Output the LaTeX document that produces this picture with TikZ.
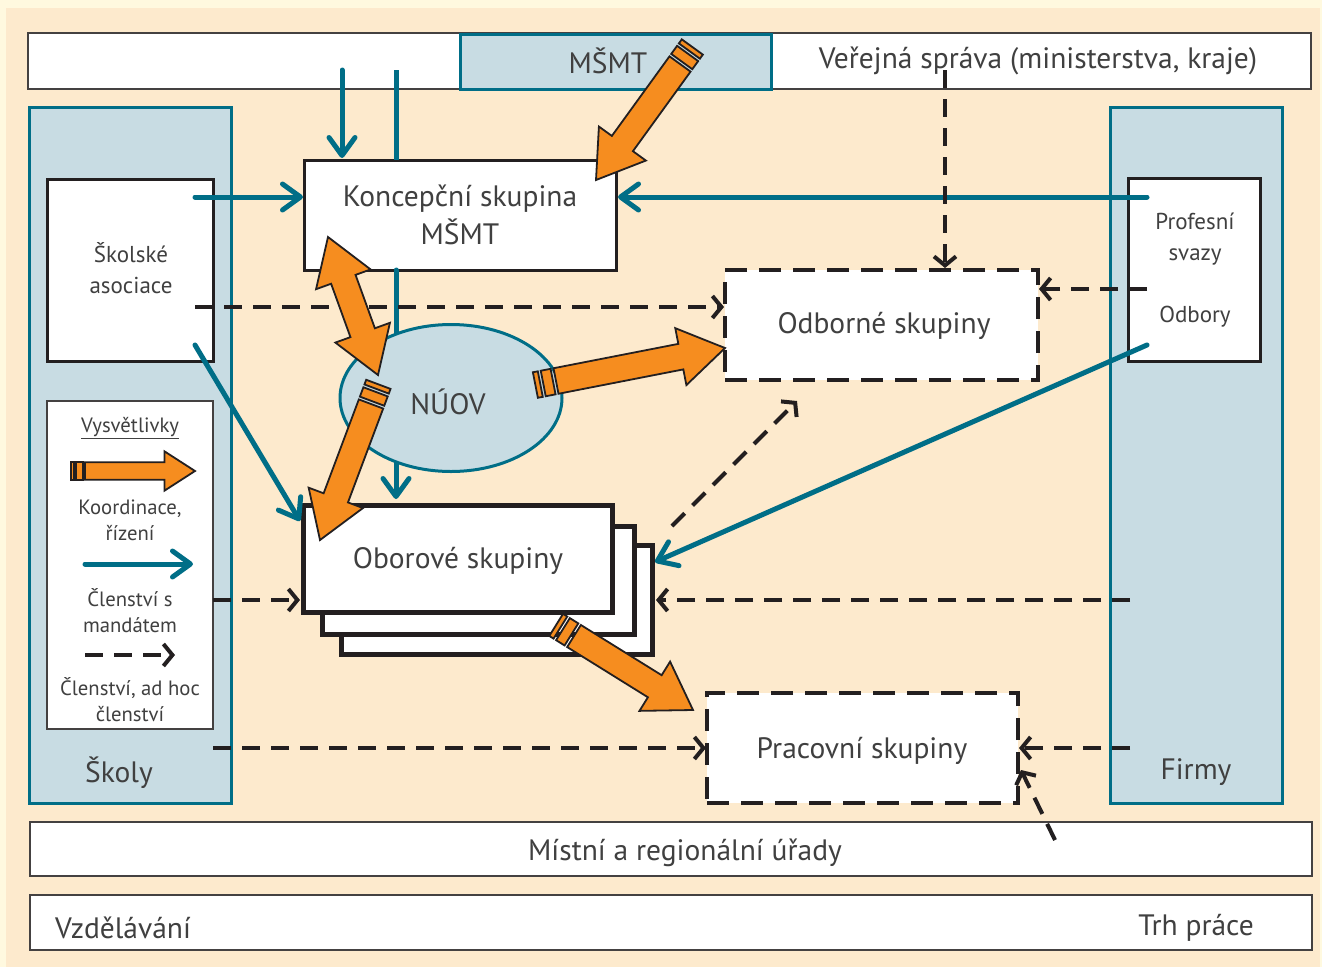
\documentclass[tikz,border=0pt]{standalone}
\usepackage{fontspec}
\setmainfont{PT Sans}
\usetikzlibrary{arrows.meta,calc,shapes.geometric}
\definecolor{bgout}{HTML}{FFF9DF}
\definecolor{peach}{HTML}{FDEACD}
\definecolor{lblue}{HTML}{C8DCE3}
\definecolor{tealc}{HTML}{006E87}
\definecolor{orng}{HTML}{F68D1F}
\definecolor{dark}{HTML}{231F20}
\definecolor{txt}{HTML}{404040}
\newcommand{\bigf}{\fontsize{29.5}{38}\selectfont}
\newcommand{\midf}{\fontsize{23}{31}\selectfont}
\newcommand{\smf}{\fontsize{20.7}{26}\selectfont}
% fat orange arrow: #1 scale, #2 from, #3 to, #4 = 1 for tail stripes
\newcommand{\fatarr}[4]{%
  \pgfpointdiff{\pgfpointanchor{#2}{center}}{\pgfpointanchor{#3}{center}}%
  \pgfgetlastxy{\fdx}{\fdy}%
  \pgfmathsetmacro{\fang}{atan2(\fdy,\fdx)}%
  \pgfmathsetmacro{\flen}{veclen(\fdx,\fdy)/#1}%
  \begin{scope}[shift={(#2)}, rotate=\fang, x=#1pt, y=#1pt]
    \draw[fatarrow] (0,-13) -- ({\flen-45},-13) -- ({\flen-45},-29) -- (\flen,0)
      -- ({\flen-45},29) -- ({\flen-45},13) -- (0,13) -- cycle;
    \ifnum#4=1
      \draw[fatarrow] (-13,-13) rectangle (-3,13);
      \draw[fatarrow] (-21,-13) rectangle (-16,13);
    \fi
  \end{scope}}
\newcommand{\fatdbl}[2]{%
  \pgfpointdiff{\pgfpointanchor{#1}{center}}{\pgfpointanchor{#2}{center}}%
  \pgfgetlastxy{\fdx}{\fdy}%
  \pgfmathsetmacro{\fang}{atan2(\fdy,\fdx)}%
  \pgfmathsetmacro{\flen}{veclen(\fdx,\fdy)}%
  \begin{scope}[shift={(#1)}, rotate=\fang, x=1pt, y=1pt]
    \draw[fatarrow] (0,0) -- (45,29) -- (45,13) -- ({\flen-45},13) -- ({\flen-45},29) -- (\flen,0)
      -- ({\flen-45},-29) -- ({\flen-45},-13) -- (45,-13) -- (45,-29) -- cycle;
  \end{scope}}
\tikzset{
  fatarrow/.style={fill=orng, draw=dark, line width=1.8pt, line join=miter},
  wbox/.style={draw=dark, line width=3pt, fill=white, inner sep=0pt, text=txt, align=center},
  bar/.style={draw=dark!85, line width=1.5pt, fill=white, inner sep=0pt},
  col/.style={draw=tealc, line width=3pt, fill=lblue, inner sep=0pt},
  dbox/.style={draw=dark, line width=4.5pt, dash pattern=on 22pt off 12pt, fill=white, inner sep=0pt, text=txt},
  stackbox/.style={draw=dark, line width=5pt, fill=white, inner sep=0pt, text=txt},
  lbl/.style={text=txt, inner sep=0pt, align=center, yshift=-2.5pt},
  tealarr/.style={draw=tealc, line width=5pt, line cap=round, -{Straight Barb[length=18pt,width=26pt,line cap=round,line join=round]}},
  tealline/.style={draw=tealc, line width=5pt},
  dasharr/.style={draw=dark, line width=4pt, dash pattern=on 18pt off 11pt, -{Straight Barb[length=9pt,width=22pt]}},
}
\begin{document}
\begin{tikzpicture}[x=1pt,y=-1pt]
\useasboundingbox (0,0) rectangle (1322,967);
\fill[bgout] (0,0) rectangle (1322,967);
\fill[peach] (6,8) rectangle (1320,967);

% bars
\node[bar, minimum width=1283pt, minimum height=56pt] (topbar) at (669.5,61) {};
\node[col, minimum width=311pt, minimum height=55pt] (msmt) at (615.5,61.5) {};
\node[lbl, font=\bigf] (msmtt) at (608,58) {MŠMT};
\node[lbl, font=\bigf] (verej) at (1038,58) {Veřejná správa (ministerstva, kraje)};
\node[bar, minimum width=1282pt, minimum height=54pt] (mistni) at (671,849) {};
\node[lbl, font=\bigf] (mistnit) at (685,850) {Místní a regionální úřady};
\node[bar, minimum width=1282pt, minimum height=55pt] (vzbar) at (671,922.5) {};
\node[lbl, font=\bigf, anchor=west] (vzd) at (55,925) {Vzdělávání};
\node[lbl, font=\bigf, anchor=east] (trh) at (1254,925) {Trh práce};

% columns
\node[col, minimum width=202pt, minimum height=696pt] (skoly) at (130,455) {};
\node[col, minimum width=172pt, minimum height=696pt] (firmy) at (1196,455) {};
\node[lbl, font=\bigf] (skolyt) at (119,770) {Školy};
\node[lbl, font=\bigf] (firmyt) at (1196,770) {Firmy};

% boxes
\node[wbox, minimum width=166pt, minimum height=182pt] (skas) at (130,270) {};
\node[lbl, font=\midf] (skast) at (131,266) {Školské\\asociace};
\node[wbox, minimum width=132pt, minimum height=183pt] (prof) at (1194,270) {};
\node[lbl, font=\midf] (proft) at (1195,237) {Profesní\\svazy};
\node[lbl, font=\midf] (odb) at (1195,314) {Odbory};
\node[bar, minimum width=166pt, minimum height=328pt] (legend) at (130,565) {};
\node[wbox, minimum width=312pt, minimum height=110pt] (konc) at (460,215) {};
\node[lbl, font=\bigf] (konct) at (460,212) {Koncepční skupina\\MŠMT};
\node[dbox, minimum width=313pt, minimum height=110pt] (odbor) at (881.5,325) {};
\node[lbl, font=\bigf] (odbort) at (884,323) {Odborné skupiny};
\node[dbox, minimum width=311pt, minimum height=110pt] (prac) at (862.5,748) {};
\node[lbl, font=\bigf] (pract) at (862,748) {Pracovní skupiny};
\node[stackbox, minimum width=311pt, minimum height=109pt] (obor3) at (496.5,599.5) {};
\node[stackbox, minimum width=312pt, minimum height=108pt] (obor2) at (478,580) {};
\node[stackbox, minimum width=309pt, minimum height=107pt] (obor) at (457.5,558.5) {};
\node[lbl, font=\bigf] (obort) at (458,558) {Oborové skupiny};

% legend texts
\node[lbl, font=\smf] (lgt) at (130,426) {\underline{Vysvětlivky}};
\node[lbl, font=\smf] (lg1) at (130,518) {Koordinace,\\řízení};
\node[lbl, font=\smf] (lg2) at (130,608) {Členství s\\mandátem};
\node[lbl, font=\smf] (lg3) at (130,697) {Členství, ad hoc\\členství};

% coordinates
\coordinate (t1a) at (342,70);   \coordinate (t1b) at (342,158);
\coordinate (t2a) at (396,70);   \coordinate (t2b) at (396,160);
\coordinate (t3a) at (396,270);  \coordinate (t3b) at (396,499);
\coordinate (t4a) at (195,197);  \coordinate (t4b) at (303,197);
\coordinate (t5a) at (1147,197); \coordinate (t5b) at (618,197);
\coordinate (t6a) at (195,345);  \coordinate (t6b) at (300,521);
\coordinate (t7a) at (1147,345); \coordinate (t7b) at (655,562);
\coordinate (tla) at (85,564);   \coordinate (tlb) at (193,564);
\coordinate (d1a) at (945,70);   \coordinate (d1b) at (945,268);
\coordinate (d2a) at (195,307);  \coordinate (d2b) at (724,307);
\coordinate (d3a) at (1147,289); \coordinate (d3b) at (1039,289);
\coordinate (d4a) at (672,526);  \coordinate (d4b) at (797,401);
\coordinate (d5a) at (213,600);  \coordinate (d5b) at (300,600);
\coordinate (d6a) at (1130,600); \coordinate (d6b) at (656,600);
\coordinate (d7a) at (213,748);  \coordinate (d7b) at (706,748);
\coordinate (d8a) at (1130,748); \coordinate (d8b) at (1019,748);
\coordinate (d9a) at (1055,840); \coordinate (d9b) at (1021,770);
\coordinate (dla) at (85,655);   \coordinate (dlb) at (175,655);

% teal line behind NUOV
\draw[tealarr] (t3a) -- (t3b);
\node[draw=tealc, line width=3pt, fill=lblue, ellipse, minimum width=222pt, minimum height=147pt, inner sep=0pt] (nuov) at (451,398) {};
\node[lbl, font=\bigf] (nuovt) at (448,399) {NÚOV};

% teal arrows
\draw[tealarr] (t1a) -- (t1b);
\draw[tealline] (t2a) -- (t2b);
\draw[tealarr] (t4a) -- (t4b);
\draw[tealarr] (t5a) -- (t5b);
\draw[tealarr] (t6a) -- (t6b);
\draw[tealarr] (t7a) -- (t7b);
\draw[tealarr] (tla) -- (tlb);

% dashed arrows
\draw[dasharr] (d1a) -- (d1b);
\draw[dasharr] (d2a) -- (d2b);
\draw[dasharr] (d3a) -- (d3b);
\draw[dasharr] (d4a) -- (d4b);
\draw[dasharr] (d5a) -- (d5b);
\draw[dasharr] (d6a) -- (d6b);
\draw[dasharr] (d7a) -- (d7b);
\draw[dasharr] (d8a) -- (d8b);
\draw[dasharr] (d9a) -- (d9b);
\draw[dasharr] (dla) -- (dlb);

% orange arrows
\coordinate (oAa) at (680,64);  \coordinate (oAb) at (596,180);
\coordinate (oBa) at (328,237); \coordinate (oBb) at (378,375);
\coordinate (oCa) at (371,404); \coordinate (oCb) at (320,540);
\coordinate (oDa) at (556,381); \coordinate (oDb) at (725,348);
\coordinate (oEa) at (574,636); \coordinate (oEb) at (693,710);
\coordinate (oLa) at (85,471);  \coordinate (oLb) at (195,471);
\fatarr{1}{oAa}{oAb}{1}
\fatdbl{oBa}{oBb}
\fatarr{1}{oCa}{oCb}{1}
\fatarr{1}{oDa}{oDb}{1}
\fatarr{1}{oEa}{oEb}{1}
\fatarr{0.68}{oLa}{oLb}{1}
\end{tikzpicture}
\end{document}
